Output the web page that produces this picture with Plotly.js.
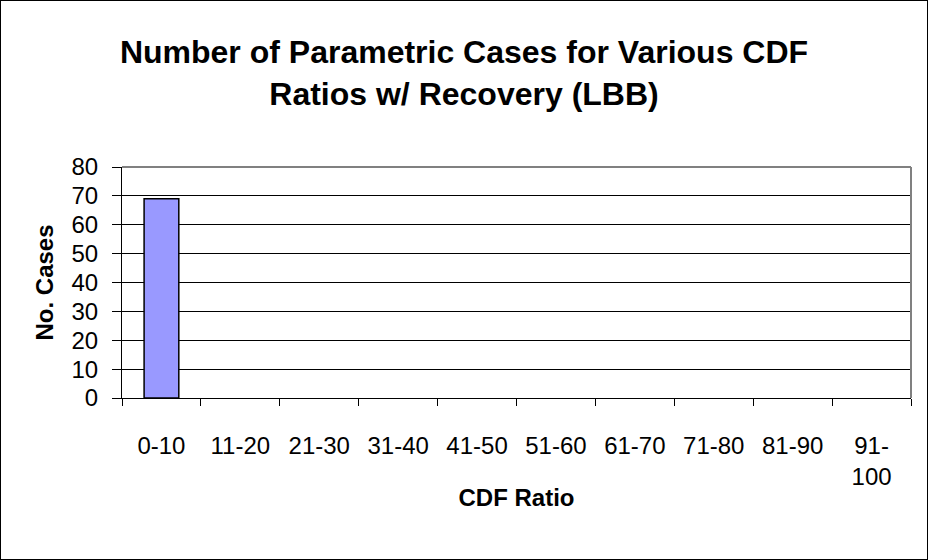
<!DOCTYPE html>
<html>
<head>
<meta charset="utf-8">
<script src="https://cdn.plot.ly/plotly-3.0.1.min.js"></script>
<style>
  html, body { margin: 0; padding: 0; background: #fff; }
  #chart { width: 926px; height: 558px; border: 1px solid #000; }
</style>
</head>
<body>
<div id="chart"></div>
<script>
const categories = ["0-10", "11-20", "21-30", "31-40", "41-50", "51-60", "61-70", "71-80", "81-90", "91-<br>100"];
const cases = [69, 0, 0, 0, 0, 0, 0, 0, 0, 0];
const yTicks = [0, 10, 20, 30, 40, 50, 60, 70, 80];

const FONT = "Arial, 'Liberation Sans', sans-serif";

const trace = {
  type: "bar",
  x: categories,
  y: cases,
  marker: {
    color: "#9999FF",
    line: { color: "#000000", width: cases.map(v => (v > 0 ? 1.5 : 0)) }
  },
  hoverinfo: "x+y"
};

const layout = {
  width: 926,
  height: 558,
  paper_bgcolor: "#ffffff",
  plot_bgcolor: "#ffffff",
  margin: { l: 121, r: 16, t: 166, b: 161 },
  bargap: 0.56,
  showlegend: false,
  font: { family: FONT, color: "#000000", size: 24 },
  title: {
    text: "<b>Number of Parametric Cases for Various CDF<br>Ratios w/ Recovery (LBB)</b>",
    font: { family: FONT, size: 32, color: "#000000" },
    x: 0.5, xref: "container", xanchor: "center",
    y: 0.888, yref: "container", yanchor: "top"
  },
  xaxis: {
    type: "category",
    tickson: "boundaries",
    ticks: "outside",
    ticklen: 7,
    tickcolor: "#000000",
    tickwidth: 1,
    showline: true,
    linecolor: "#000000",
    linewidth: 1,
    showgrid: false,
    tickfont: { family: FONT, size: 24, color: "#000000" },
    ticklabelstandoff: 26,
    title: { text: "<b>CDF Ratio</b>", font: { family: FONT, size: 24, color: "#000000" }, standoff: 0 },
    automargin: false,
    fixedrange: true
  },
  yaxis: {
    range: [0, 80],
    tickvals: yTicks,
    ticks: "outside",
    ticklen: 9,
    tickcolor: "#000000",
    tickwidth: 1,
    showline: true,
    linecolor: "#000000",
    linewidth: 1,
    showgrid: true,
    gridcolor: "#000000",
    gridwidth: 1,
    zeroline: true,
    zerolinecolor: "#000000",
    zerolinewidth: 1,
    tickfont: { family: FONT, size: 24, color: "#000000" },
    ticklabelstandoff: 9,
    title: { text: "<b>No. Cases</b>", font: { family: FONT, size: 24, color: "#000000" }, standoff: 11 },
    automargin: false,
    fixedrange: true
  },
  shapes: [
    { type: "line", xref: "paper", yref: "paper", x0: 0, x1: 1, y0: 1, y1: 1, line: { color: "#808080", width: 2 }, layer: "above" },
    { type: "line", xref: "paper", yref: "paper", x0: 1, x1: 1, y0: 0, y1: 1, line: { color: "#808080", width: 2 }, layer: "above" }
  ]
};

Plotly.newPlot("chart", [trace], layout, { displayModeBar: false, staticPlot: true });
</script>
</body>
</html>
